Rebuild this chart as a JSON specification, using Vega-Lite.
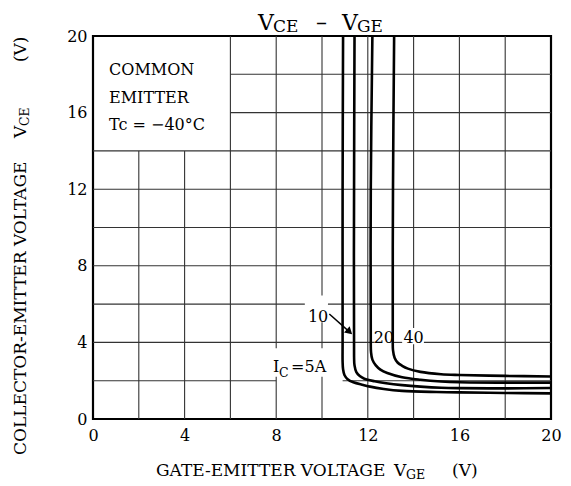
{
  "$schema": "https://vega.github.io/schema/vega-lite/v6.json",
  "width": 458,
  "height": 383,
  "autosize": {"type": "none"},
  "padding": {"left": 93, "top": 36, "right": 20, "bottom": 67},
  "background": "white",
  "config": {
    "font": "DejaVu Serif",
    "view": {"stroke": "black", "strokeWidth": 2.2},
    "axis": {"grid": false, "ticks": false, "domain": false, "labelFont": "DejaVu Serif", "labelFontSize": 16, "labelColor": "black", "title": null, "labelFlush": false}
  },
  "encoding": {
    "x": {"field": "x", "type": "quantitative", "scale": {"domain": [0, 20], "nice": false, "zero": false}, "axis": {"values": [0, 4, 8, 12, 16, 20], "labelPadding": 8}},
    "y": {"field": "y", "type": "quantitative", "scale": {"domain": [0, 20], "nice": false, "zero": false}, "axis": {"values": [0, 4, 8, 12, 16, 20], "labelPadding": 6}}
  },
  "layer": [
    {
      "data": {"values": [
        {"x": 2, "x2": 2, "y": 0, "y2": 14},
        {"x": 4, "x2": 4, "y": 0, "y2": 14},
        {"x": 6, "x2": 6, "y": 0, "y2": 20},
        {"x": 8, "x2": 8, "y": 0, "y2": 2.2},
        {"x": 8, "x2": 8, "y": 3.7, "y2": 20},
        {"x": 10, "x2": 10, "y": 0, "y2": 2.2},
        {"x": 10, "x2": 10, "y": 3.7, "y2": 5.05},
        {"x": 10, "x2": 10, "y": 6.45, "y2": 20},
        {"x": 12, "x2": 12, "y": 0, "y2": 20},
        {"x": 14, "x2": 14, "y": 0, "y2": 3.9},
        {"x": 14, "x2": 14, "y": 4.75, "y2": 20},
        {"x": 16, "x2": 16, "y": 0, "y2": 20},
        {"x": 18, "x2": 18, "y": 0, "y2": 20},
        {"x": 0, "x2": 8, "y": 2, "y2": 2},
        {"x": 10.9, "x2": 20, "y": 2, "y2": 2},
        {"x": 0, "x2": 12.3, "y": 4, "y2": 4},
        {"x": 13.1, "x2": 13.5, "y": 4, "y2": 4},
        {"x": 14.45, "x2": 20, "y": 4, "y2": 4},
        {"x": 0, "x2": 9.25, "y": 6, "y2": 6},
        {"x": 10.26, "x2": 20, "y": 6, "y2": 6},
        {"x": 0, "x2": 20, "y": 8, "y2": 8},
        {"x": 0, "x2": 20, "y": 10, "y2": 10},
        {"x": 0, "x2": 20, "y": 12, "y2": 12},
        {"x": 0, "x2": 20, "y": 14, "y2": 14},
        {"x": 6, "x2": 20, "y": 16, "y2": 16},
        {"x": 6, "x2": 20, "y": 18, "y2": 18}
      ]},
      "mark": {"type": "rule", "color": "#333333", "strokeWidth": 1.1},
      "encoding": {"x2": {"field": "x2"}, "y2": {"field": "y2"}}
    },
    {
      "data": {"values": [
        {"s": "5A", "i": 0, "x": 10.92, "y": 20},
        {"s": "5A", "i": 1, "x": 10.9, "y": 12},
        {"s": "5A", "i": 2, "x": 10.9, "y": 4},
        {"s": "5A", "i": 3, "x": 10.9, "y": 3.0},
        {"s": "5A", "i": 4, "x": 10.92, "y": 2.6},
        {"s": "5A", "i": 5, "x": 10.98, "y": 2.3},
        {"s": "5A", "i": 6, "x": 11.12, "y": 2.08},
        {"s": "5A", "i": 7, "x": 11.37, "y": 1.92},
        {"s": "5A", "i": 8, "x": 11.8, "y": 1.78},
        {"s": "5A", "i": 9, "x": 12.1, "y": 1.69},
        {"s": "5A", "i": 10, "x": 12.7, "y": 1.57},
        {"s": "5A", "i": 11, "x": 13.5, "y": 1.47},
        {"s": "5A", "i": 12, "x": 15, "y": 1.41},
        {"s": "5A", "i": 13, "x": 16, "y": 1.39},
        {"s": "5A", "i": 14, "x": 18, "y": 1.36},
        {"s": "5A", "i": 15, "x": 20, "y": 1.34},
        {"s": "10A", "i": 0, "x": 11.42, "y": 20},
        {"s": "10A", "i": 1, "x": 11.4, "y": 12},
        {"s": "10A", "i": 2, "x": 11.4, "y": 3.3},
        {"s": "10A", "i": 3, "x": 11.42, "y": 2.8},
        {"s": "10A", "i": 4, "x": 11.5, "y": 2.45},
        {"s": "10A", "i": 5, "x": 11.65, "y": 2.24},
        {"s": "10A", "i": 6, "x": 11.85, "y": 2.1},
        {"s": "10A", "i": 7, "x": 12.3, "y": 1.97},
        {"s": "10A", "i": 8, "x": 12.8, "y": 1.87},
        {"s": "10A", "i": 9, "x": 13.5, "y": 1.77},
        {"s": "10A", "i": 10, "x": 14.3, "y": 1.69},
        {"s": "10A", "i": 11, "x": 15.2, "y": 1.63},
        {"s": "10A", "i": 12, "x": 16, "y": 1.61},
        {"s": "10A", "i": 13, "x": 18, "y": 1.6},
        {"s": "10A", "i": 14, "x": 20, "y": 1.62},
        {"s": "20A", "i": 0, "x": 12.2, "y": 20},
        {"s": "20A", "i": 1, "x": 12.13, "y": 12},
        {"s": "20A", "i": 2, "x": 12.13, "y": 4.0},
        {"s": "20A", "i": 3, "x": 12.14, "y": 3.5},
        {"s": "20A", "i": 4, "x": 12.2, "y": 3.1},
        {"s": "20A", "i": 5, "x": 12.35, "y": 2.8},
        {"s": "20A", "i": 6, "x": 12.55, "y": 2.58},
        {"s": "20A", "i": 7, "x": 12.85, "y": 2.4},
        {"s": "20A", "i": 8, "x": 13.5, "y": 2.18},
        {"s": "20A", "i": 9, "x": 14.3, "y": 2.05},
        {"s": "20A", "i": 10, "x": 15.2, "y": 1.96},
        {"s": "20A", "i": 11, "x": 16, "y": 1.92},
        {"s": "20A", "i": 12, "x": 18, "y": 1.9},
        {"s": "20A", "i": 13, "x": 20, "y": 1.9},
        {"s": "40A", "i": 0, "x": 13.15, "y": 20},
        {"s": "40A", "i": 1, "x": 13.1, "y": 12},
        {"s": "40A", "i": 2, "x": 13.09, "y": 4.0},
        {"s": "40A", "i": 3, "x": 13.1, "y": 3.6},
        {"s": "40A", "i": 4, "x": 13.17, "y": 3.2},
        {"s": "40A", "i": 5, "x": 13.3, "y": 2.95},
        {"s": "40A", "i": 6, "x": 13.5, "y": 2.78},
        {"s": "40A", "i": 7, "x": 13.75, "y": 2.63},
        {"s": "40A", "i": 8, "x": 14.3, "y": 2.46},
        {"s": "40A", "i": 9, "x": 15.2, "y": 2.34},
        {"s": "40A", "i": 10, "x": 16, "y": 2.3},
        {"s": "40A", "i": 11, "x": 18, "y": 2.25},
        {"s": "40A", "i": 12, "x": 20, "y": 2.22}
      ]},
      "mark": {"type": "line", "color": "black", "strokeWidth": 2.6, "interpolate": "catmull-rom"},
      "encoding": {"detail": {"field": "s"}, "order": {"field": "i", "type": "quantitative"}}
    },
    {
      "data": {"values": [{"x": 10.32, "y": 5.48, "x2": 11.2, "y2": 4.55}]},
      "mark": {"type": "rule", "color": "black", "strokeWidth": 1.5},
      "encoding": {"x2": {"field": "x2"}, "y2": {"field": "y2"}}
    },
    {
      "data": {"values": [{"x": 11.2, "y": 4.55}]},
      "mark": {"type": "point", "shape": "triangle-right", "filled": true, "color": "black", "size": 70, "angle": 43, "opacity": 1},
      "encoding": {}
    },
    {
      "data": {"values": [
        {"x": 0.7, "y": 17.96, "t": "COMMON"},
        {"x": 0.7, "y": 16.5, "t": "EMITTER"},
        {"x": 0.7, "y": 15.09, "t": "Tc = −40°C"},
        {"x": 7.86, "y": 2.45, "t": "I"},
        {"x": 8.65, "y": 2.45, "t": "=5A"}
      ]},
      "mark": {"type": "text", "fontSize": 16, "align": "left", "baseline": "alphabetic", "color": "black"},
      "encoding": {"text": {"field": "t"}}
    },
    {
      "data": {"values": [
        {"x": 9.83, "y": 5.07, "t": "10"},
        {"x": 12.7, "y": 3.97, "t": "20"},
        {"x": 14.0, "y": 3.97, "t": "40"}
      ]},
      "mark": {"type": "text", "fontSize": 16, "align": "center", "baseline": "alphabetic", "color": "black"},
      "encoding": {"text": {"field": "t"}}
    },
    {
      "data": {"values": [
        {"x": 8.12, "y": 2.19, "t": "C"},
        {"x": 13.67, "y": -3.13, "t": "GE"}
      ]},
      "mark": {"type": "text", "fontSize": 12.5, "align": "left", "baseline": "alphabetic", "color": "black"},
      "encoding": {"text": {"field": "t"}}
    },
    {
      "data": {"values": [
        {"x": 7.2, "y": 20.31, "t": "V"},
        {"x": 9.74, "y": 20.31, "t": "–"},
        {"x": 10.87, "y": 20.31, "t": "V"}
      ]},
      "mark": {"type": "text", "fontSize": 22, "align": "left", "baseline": "alphabetic", "color": "black"},
      "encoding": {"text": {"field": "t"}}
    },
    {
      "data": {"values": [
        {"x": 2.75, "y": -2.98, "t": "GATE-EMITTER VOLTAGE"},
        {"x": 13.14, "y": -2.98, "t": "V"},
        {"x": 15.68, "y": -2.98, "t": "(V)"},
        {"x": 7.86, "y": 20.2, "t": "CE"},
        {"x": 11.53, "y": 20.2, "t": "GE"}
      ]},
      "mark": {"type": "text", "fontSize": 17, "align": "left", "baseline": "alphabetic", "color": "black"},
      "encoding": {"text": {"field": "t"}}
    },
    {
      "data": {"values": [
        {"x": -2.93, "y": -1.88, "t": "COLLECTOR-EMITTER VOLTAGE"},
        {"x": -2.93, "y": 14.67, "t": "V"},
        {"x": -2.93, "y": 18.64, "t": "(V)"}
      ]},
      "mark": {"type": "text", "fontSize": 17, "angle": 270, "align": "left", "baseline": "alphabetic", "color": "black"},
      "encoding": {"text": {"field": "t"}}
    },
    {
      "data": {"values": [
        {"x": -2.79, "y": 15.3, "t": "CE"}
      ]},
      "mark": {"type": "text", "fontSize": 12.5, "angle": 270, "align": "left", "baseline": "alphabetic", "color": "black"},
      "encoding": {"text": {"field": "t"}}
    }
  ]
}
